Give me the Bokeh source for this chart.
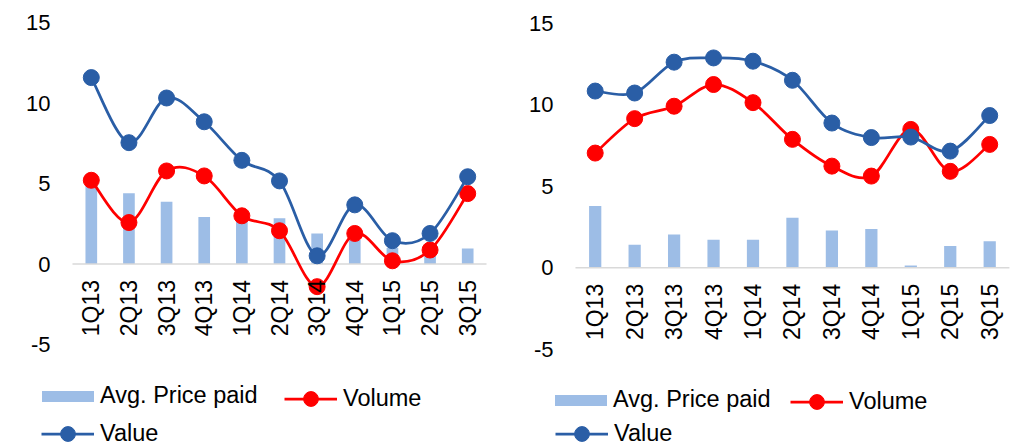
from math import pi
from bokeh.plotting import figure
from bokeh.models import ColumnDataSource, Range1d, Legend, LegendItem
from bokeh.layouts import row
from bokeh.core.properties import value
from bokeh.embed import file_html
from bokeh.resources import INLINE

quarters = ["1Q13", "2Q13", "3Q13", "4Q13", "1Q14", "2Q14", "3Q14", "4Q14", "1Q15", "2Q15", "3Q15"]
series_names = ["Avg. Price paid", "Volume", "Value"]
y_ticks = [-5, 0, 5, 10, 15]

left_price = [5.0, 4.4, 3.88, 2.93, 2.8, 2.85, 1.9, 1.5, 1.0, 0.6, 0.97]
left_volume = [5.21, 2.58, 5.79, 5.48, 3.0, 2.07, -1.41, 1.9, 0.2, 0.87, 4.38]
left_value = [11.6, 7.55, 10.33, 8.85, 6.45, 5.17, 0.51, 3.68, 1.45, 1.9, 5.43]

right_price = [3.78, 1.41, 2.04, 1.72, 1.72, 3.07, 2.29, 2.37, 0.14, 1.33, 1.63]
right_volume = [7.03, 9.14, 9.9, 11.23, 10.12, 7.87, 6.23, 5.62, 8.48, 5.91, 7.56]
right_value = [10.83, 10.71, 12.6, 12.86, 12.66, 11.49, 8.87, 7.98, 8.01, 7.15, 9.33]

BAR = "#9DBDE6"
RED = "#FF0000"
BLUE = "#2A5EA6"
FONT = "Liberation Sans"


def smooth_segments(ys):
    n = len(ys)
    d = dict(x0=[], y0=[], x1=[], y1=[], cx0=[], cy0=[], cx1=[], cy1=[])
    for i in range(n - 1):
        ip = max(i - 1, 0)
        inx = min(i + 2, n - 1)
        d["x0"].append(i)
        d["y0"].append(ys[i])
        d["x1"].append(i + 1)
        d["y1"].append(ys[i + 1])
        d["cx0"].append(i + (i + 1 - ip) / 6.0)
        d["cy0"].append(ys[i] + (ys[i + 1] - ys[ip]) / 6.0)
        d["cx1"].append(i + 1 - (inx - i) / 6.0)
        d["cy1"].append(ys[i + 1] - (ys[inx] - ys[i]) / 6.0)
    return ColumnDataSource(d)


def make_legend(p, label, renderers, loc, gw, gh, standoff):
    lg = Legend(items=[LegendItem(label=label, renderers=renderers)],
                location=loc, orientation="horizontal",
                glyph_width=gw, glyph_height=gh, label_standoff=standoff,
                padding=0, margin=0, spacing=0,
                border_line_color=None, background_fill_alpha=0,
                label_text_font=FONT, label_text_font_size="23.5px",
                label_text_color="black", label_text_baseline="middle")
    p.add_layout(lg)


def make_chart(price, volume, val, width, x0, x1, y0, y1, legend_locs):
    p = figure(width=width, height=446, x_range=Range1d(x0, x1),
               y_range=Range1d(y0, y1), x_axis_location=None, y_axis_location=None,
               toolbar_location=None, output_backend="svg",
               min_border_left=0, min_border_right=0,
               min_border_top=0, min_border_bottom=0,
               outline_line_color=None, background_fill_color="white",
               border_fill_color="white")
    p.grid.visible = False

    n = len(quarters)
    xs = list(range(n))

    # y tick labels
    ylab = ColumnDataSource(dict(x=[-0.5] * len(y_ticks), y=y_ticks,
                                 t=[str(v) for v in y_ticks]))
    p.text(x="x", y="y", text="t", source=ylab, x_offset=-22, text_align="right",
           text_baseline="middle", text_font=value(FONT), text_font_size="22px",
           text_color="black")

    bar_r = p.vbar(x=xs, top=price, bottom=0, width=0.31, fill_color=BAR, line_color=None)
    # zero axis line across the category range
    p.segment(x0=[-0.5], y0=[0], x1=[n - 0.5], y1=[0], line_color="#D9D9D9", line_width=1.5)

    rv_line = p.bezier(x0="x0", y0="y0", x1="x1", y1="y1", cx0="cx0", cy0="cy0",
                       cx1="cx1", cy1="cy1", source=smooth_segments(volume),
                       line_color=RED, line_width=2.75)
    rv_pts = p.scatter(xs, volume, size=16, fill_color=RED, line_color=RED)
    bv_line = p.bezier(x0="x0", y0="y0", x1="x1", y1="y1", cx0="cx0", cy0="cy0",
                       cx1="cx1", cy1="cy1", source=smooth_segments(val),
                       line_color=BLUE, line_width=2.75)
    bv_pts = p.scatter(xs, val, size=16, fill_color=BLUE, line_color=BLUE)

    # category labels along the zero line, drawn above the series
    lab = ColumnDataSource(dict(x=xs, y=[0] * n, t=quarters))
    p.text(x="x", y="y", text="t", source=lab, angle=pi / 2, text_align="right",
           text_baseline="middle", y_offset=16, text_font=value(FONT),
           text_font_size="23px", text_color="black")

    make_legend(p, series_names[0], [bar_r], legend_locs[0], 65, 14, 0)
    make_legend(p, series_names[1], [rv_line, rv_pts], legend_locs[1], 53, 37, 6)
    make_legend(p, series_names[2], [bv_line, bv_pts], legend_locs[2], 53, 37, 6)
    return p


# left: category 0 at 90.8px, 37.64 px per category; zero at 263.5px, 16.07 px per unit
left = make_chart(left_price, left_volume, left_value, 500,
                  -90.8 / 37.64, 10 + (500 - 467.2) / 37.64,
                  -(446 - 263.5) / 16.07, 263.5 / 16.07,
                  [(35, 37), (284, 29), (41, -6)])
# right: category 0 at 94.7px, 39.45 px per category; zero at 267.3px, 16.32 px per unit
right = make_chart(right_price, right_volume, right_value, 512,
                   -94.7 / 39.45, 10 + (512 - 489.2) / 39.45,
                   -(446 - 267.3) / 16.32, 267.3 / 16.32,
                   [(48, 33), (290, 26), (55, -6)])

layout = row(left, right)
open("out.html", "w").write(file_html(layout, INLINE))
